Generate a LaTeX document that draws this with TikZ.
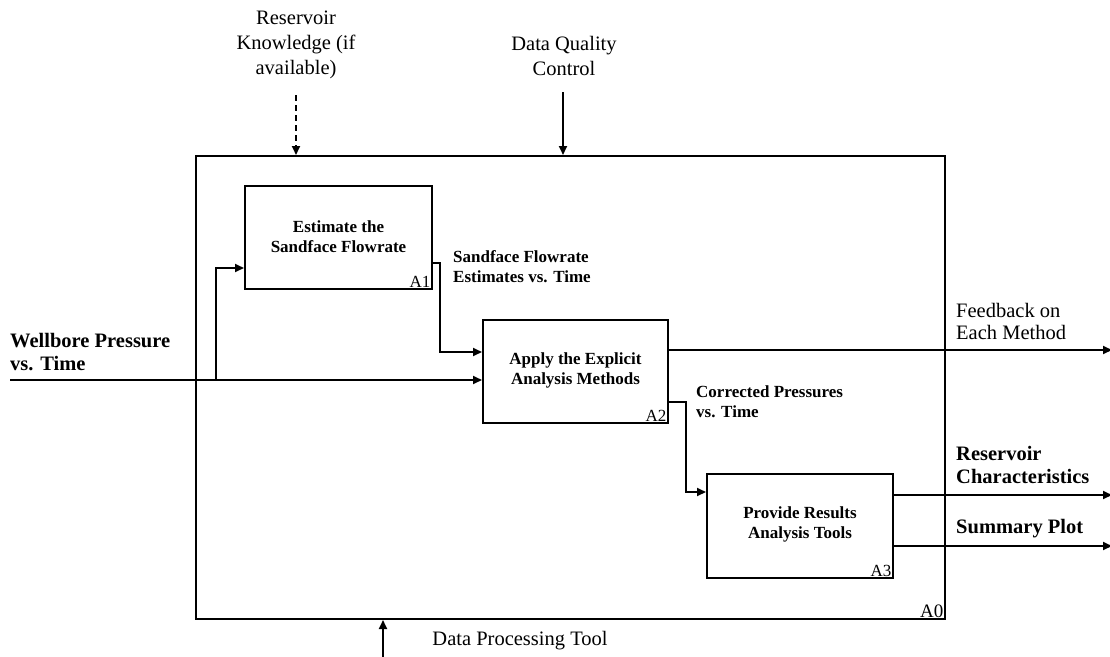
\documentclass[tikz,border=0pt]{standalone}
\usepackage{fontspec}
\setmainfont{Liberation Serif}
\usetikzlibrary{arrows.meta}
\begin{document}
\begin{tikzpicture}[x=1pt,y=-1pt,
  box/.style={draw,line width=2pt,inner sep=0pt,anchor=north west},
  conn/.style={line width=1.8pt,-{Triangle[length=9pt,width=8pt]}},
  lbl/.style={inner sep=0pt,align=left,anchor=west},
  ctr/.style={inner sep=0pt,align=center},
  boxtxt/.style={ctr,font=\bfseries\fontsize{17}{20}\selectfont},
  tag/.style={inner xsep=2.5pt,inner ysep=2pt,anchor=south east,font=\fontsize{17}{17}\selectfont}]
\useasboundingbox (0,0) rectangle (1110,656);
% outer A0
\node[box,minimum width=749pt,minimum height=463pt] (A0) at (195,155) {};
\node[tag,font=\fontsize{19}{19}\selectfont] at (A0.south east) {A0};
% A1
\node[box,minimum width=187pt,minimum height=103pt] (A1) at (244,185) {};
\node[boxtxt] at ([yshift=1pt]A1.center) {Estimate the\\Sandface Flowrate};
\node[tag] at (A1.south east) {A1};
% A2
\node[box,minimum width=185pt,minimum height=103pt] (A2) at (482,319) {};
\node[boxtxt] at ([yshift=1pt]A2.center) {Apply the Explicit\\Analysis Methods};
\node[tag] at (A2.south east) {A2};
% A3
\node[box,minimum width=186pt,minimum height=104pt] (A3) at (706,473) {};
\node[boxtxt] at ([yshift=2pt]A3.center) {Provide Results\\Analysis Tools};
\node[tag] at (A3.south east) {A3};
% texts
\node[ctr,font=\fontsize{20.5}{25}\selectfont] (rk) at (296,45) {Reservoir\\Knowledge (if\\available)};
\node[ctr,font=\fontsize{20.5}{25}\selectfont] (dq) at (564,56) {Data Quality\\Control};
\node[lbl,font=\bfseries\fontsize{20.5}{23}\selectfont] (wp) at (10,352) {Wellbore Pressure\\vs. Time};
\node[lbl,font=\bfseries\fontsize{17}{20}\selectfont] (sf) at (453,267) {Sandface Flowrate\\Estimates vs. Time};
\node[lbl,font=\fontsize{20.5}{22}\selectfont] (fb) at (956,321) {Feedback on\\Each Method};
\node[lbl,font=\bfseries\fontsize{17}{20}\selectfont] (cp) at (696,402) {Corrected Pressures\\vs. Time};
\node[lbl,font=\bfseries\fontsize{20.5}{23}\selectfont] (rc) at (956,465) {Reservoir\\Characteristics};
\node[lbl,font=\bfseries\fontsize{20.5}{23}\selectfont] (sp) at (956,529) {Summary Plot};
\node[ctr,font=\fontsize{20.5}{20}\selectfont] (dp) at (520,641) {Data Processing Tool};
% coordinates
\coordinate (win) at (10,380);
\coordinate (br) at (216,380);
\coordinate (rkTop) at (296,95);
\coordinate (dqTop) at (563,92);
\coordinate (dpBot) at (383,658);
\coordinate (fbEnd) at (1112,350);
\coordinate (rcEnd) at (1112,495);
\coordinate (spEnd) at (1112,546);
% connectors
\draw[conn] (win) -- (A2.west |- win);
\draw[conn] (br) |- (A1.west |- 0,268);
\draw[conn] (A1.east |- 0,263) -| (440,352) -- (A2.west |- 0,352);
\draw[conn] (A2.east |- 0,350) -- (fbEnd);
\draw[conn] (A2.east |- 0,402) -| (686,492) -- (A3.west |- 0,492);
\draw[conn] (A3.east |- 0,495) -- (rcEnd);
\draw[conn] (A3.east |- 0,546) -- (spEnd);
\draw[conn,dashed,dash pattern=on 6pt off 4pt] (rkTop) -- (rkTop |- A0.north);
\draw[conn] (dqTop) -- (dqTop |- A0.north);
\draw[conn] (dpBot) -- (dpBot |- A0.south);
\end{tikzpicture}
\end{document}
